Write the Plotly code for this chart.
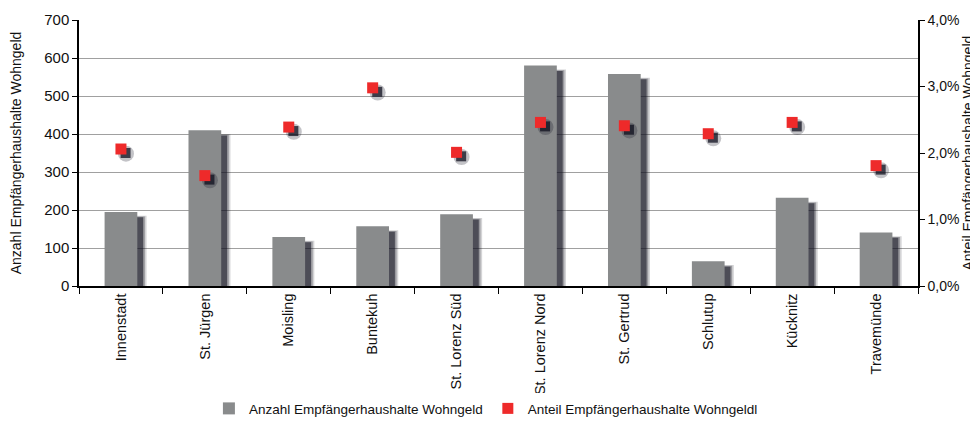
import plotly.graph_objects as go

categories = ["Innenstadt", "St. Jürgen", "Moisling", "Buntekuh", "St. Lorenz Süd",
              "St. Lorenz Nord", "St. Gertrud", "Schlutup", "Kücknitz", "Travemünde"]
anzahl = [195, 410, 129, 157, 189, 580, 558, 65, 232, 141]
anteil = [0.0206, 0.0166, 0.0239, 0.0298, 0.0201, 0.0246, 0.0241, 0.0229, 0.0246, 0.0181]
left_ticks = [0, 100, 200, 300, 400, 500, 600, 700]
right_ticks = [0, 0.01, 0.02, 0.03, 0.04]

idx = list(range(len(categories)))
FONT = "Liberation Sans, Arial, sans-serif"

fig = go.Figure()

# blurred bar shadows (several translucent layers)
for dx, dy, w, op in [(0.10, 10, 0.41, 0.18), (0.09, 12, 0.39, 0.3), (0.08, 14, 0.37, 0.55)]:
    fig.add_trace(go.Bar(x=[i + dx for i in idx], y=[v - dy for v in anzahl], width=w,
                         marker=dict(color=f"rgba(15,15,30,{op})", line=dict(width=0)),
                         showlegend=False, hoverinfo="skip"))
# bars
fig.add_trace(go.Bar(x=idx, y=anzahl, width=0.39, name="Anzahl Empfängerhaushalte Wohngeld",
                     marker=dict(color="#898b8c", line=dict(width=0))))

# marker shadows
fig.add_trace(go.Scatter(x=[i + 0.06 for i in idx], y=[v - 0.0007 for v in anteil], yaxis="y2",
                         mode="markers", showlegend=False, hoverinfo="skip",
                         marker=dict(symbol="circle", size=16, color="rgba(15,15,30,0.25)")))
fig.add_trace(go.Scatter(x=[i + 0.055 for i in idx], y=[v - 0.0006 for v in anteil], yaxis="y2",
                         mode="markers", showlegend=False, hoverinfo="skip",
                         marker=dict(symbol="square", size=10, color="rgba(15,15,30,0.75)")))
# markers
fig.add_trace(go.Scatter(x=idx, y=anteil, yaxis="y2", mode="markers",
                         name="Anteil Empfängerhaushalte Wohngeldl",
                         marker=dict(symbol="square", size=11, color="#ee2a2a")))

fig.update_layout(
    width=970, height=413,
    margin=dict(l=71, r=60, t=12, b=135, autoexpand=False),
    plot_bgcolor="white", paper_bgcolor="white",
    barmode="overlay",
    separators=",.",
    font=dict(family=FONT, size=13, color="#111"),
    xaxis=dict(range=[-0.5, 9.5], tickvals=idx, ticktext=categories, tickangle=-90,
               ticks="", showgrid=False, showline=True, linecolor="black", linewidth=1.5,
               tickfont=dict(size=14.5), automargin=False,
               minor=dict(tickvals=[i - 0.5 for i in range(11)], ticks="outside",
                          ticklen=6, tickcolor="black", showgrid=False)),
    yaxis=dict(range=[0, 700], tickvals=left_ticks, showgrid=True, gridcolor="#a0a0a0",
               gridwidth=1, showline=True, linecolor="black", linewidth=1.5,
               ticks="outside", ticklen=5, tickcolor="black", zeroline=False,
               automargin=False,
               title=dict(text="Anzahl Empfängerhaushalte Wohngeld", font=dict(size=14),
                          standoff=20),
               tickfont=dict(size=15)),
    yaxis2=dict(range=[0, 0.04], tickvals=right_ticks, tickformat=".1%", overlaying="y",
                side="right", showgrid=False, showline=True, linecolor="black",
                linewidth=1.5, ticks="outside", ticklen=5, tickcolor="black",
                zeroline=False, automargin=False, tickfont=dict(size=14)),
    legend=dict(orientation="h", x=0.485, xanchor="center", y=0.03, yanchor="middle",
                yref="container", font=dict(family=FONT, size=13.5),
                itemwidth=30, tracegroupgap=0),
    annotations=[dict(text="Anteil Empfängerhaushalte Wohngeld", xref="paper", yref="paper",
                      x=1.059, y=0.5, xanchor="center", yanchor="middle", textangle=-90,
                      showarrow=False, font=dict(size=14))],
)

fig.write_html("out.html")
